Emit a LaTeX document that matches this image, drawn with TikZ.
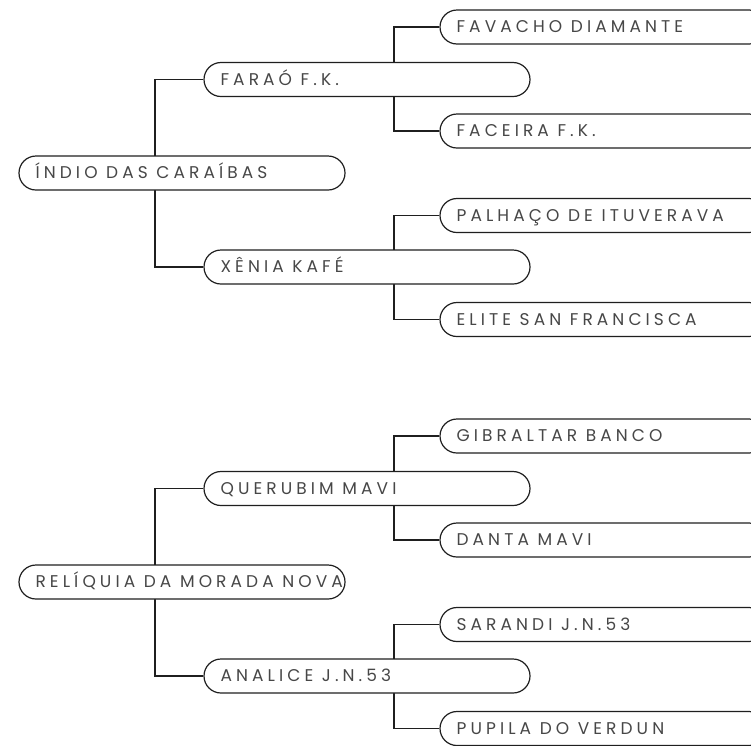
\documentclass[tikz,border=0pt]{standalone}
\usepackage{fontspec}
\newfontfamily\lblfont[LetterSpace=24]{Poppins}
\usetikzlibrary{backgrounds}
\tikzset{
  pbox/.style={draw=black!88, line width=1.2pt, fill=white, rounded corners=17pt,
    minimum width=326pt, minimum height=34pt, inner sep=0pt},
  lbl/.style={anchor=base west, inner sep=0pt, text=black!72,
    font=\lblfont\fontsize{17pt}{19pt}\selectfont},
  conn/.style={draw=black!88, line width=1.1pt}
}
\newcommand{\pnode}[4]{%
  \node[pbox] (#1) at (#2,#3) {};
  \node[lbl] (#1t) at ([xshift=17pt,yshift=-5.8pt]#1.west) {#4};
}
\begin{document}
\begin{tikzpicture}[x=1pt,y=-1pt]
\useasboundingbox (0,0) rectangle (751,745);
% top family
\pnode{ind}{182}{173}{ÍNDIO DAS CARAÍBAS}
\pnode{far}{367}{79.5}{FARAÓ F.K.}
\pnode{xen}{367}{267}{XÊNIA KAFÉ}
\pnode{fav}{603}{27}{FAVACHO DIAMANTE}
\pnode{fac}{603}{131}{FACEIRA F.K.}
\pnode{pal}{603}{215.5}{PALHAÇO DE ITUVERAVA}
\pnode{eli}{603}{319.5}{ELITE SAN FRANCISCA}
% bottom family
\pnode{rel}{182}{582}{RELÍQUIA DA MORADA NOVA}
\pnode{que}{367}{488.5}{QUERUBIM MAVI}
\pnode{ana}{367}{676}{ANALICE J.N.53}
\pnode{gib}{603}{436}{GIBRALTAR BANCO}
\pnode{dan}{603}{540}{DANTA MAVI}
\pnode{sar}{603}{624.5}{SARANDI J.N.53}
\pnode{pup}{603}{728.5}{PUPILA DO VERDUN}
\coordinate (jind) at (155,173);
\coordinate (jfar) at (394,79.5);
\coordinate (jxen) at (394,267);
\coordinate (jrel) at (155,582);
\coordinate (jque) at (394,488.5);
\coordinate (jana) at (394,676);
\begin{scope}[on background layer]
\draw[conn] (far.west) -| (jind) |- (xen.west);
\draw[conn] (fav.west) -| (jfar) |- (fac.west);
\draw[conn] (pal.west) -| (jxen) |- (eli.west);
\draw[conn] (que.west) -| (jrel) |- (ana.west);
\draw[conn] (gib.west) -| (jque) |- (dan.west);
\draw[conn] (sar.west) -| (jana) |- (pup.west);
\end{scope}
\end{tikzpicture}
\end{document}
